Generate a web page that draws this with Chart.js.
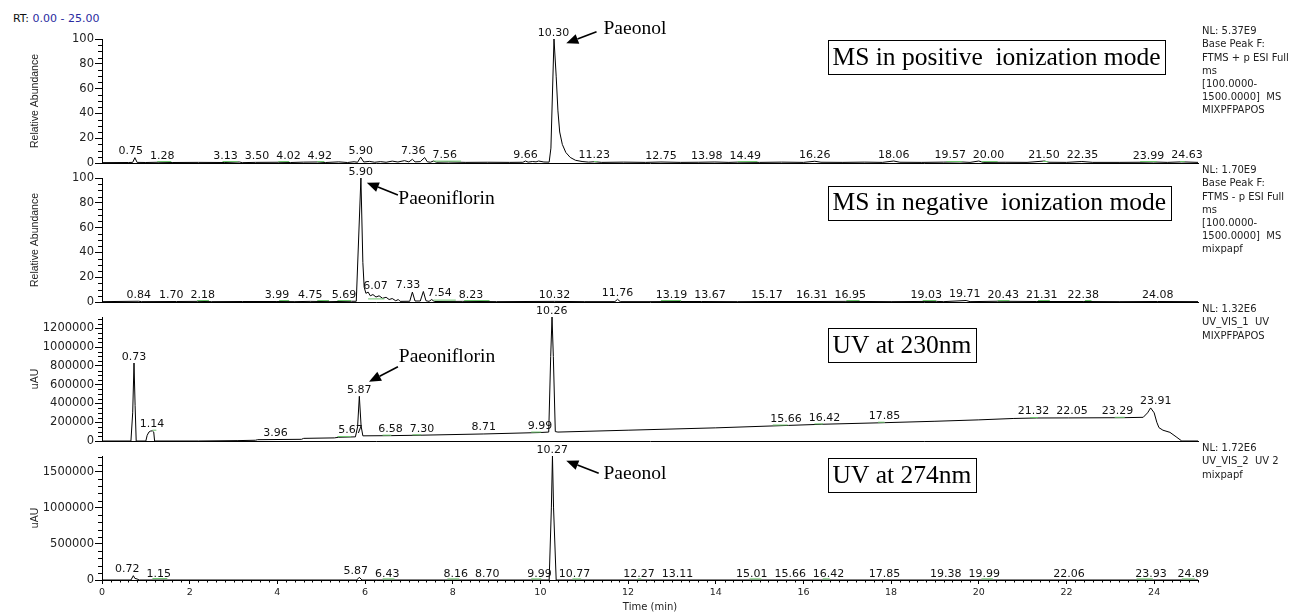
<!DOCTYPE html>
<html><head><meta charset="utf-8">
<script src="https://cdn.jsdelivr.net/npm/chart.js@4.4.0/dist/chart.umd.min.js"></script>
<style>
html,body{margin:0;padding:0;background:#fff;}
body{width:1297px;height:614px;position:relative;overflow:hidden;}
canvas{position:absolute;left:0;}
#rt{position:absolute;left:13px;top:12px;line-height:13px;font-size:11px;font-family:"DejaVu Sans";color:#111;white-space:pre;}
#rt span{color:#2a2aa0;}
</style></head><body>
<div id="rt">RT: <span>0.00 - 25.00</span></div>
<canvas id="c1" width="1297" height="162" style="top:9px"></canvas>
<canvas id="c2" width="1297" height="162" style="top:148px"></canvas>
<canvas id="c3" width="1297" height="162" style="top:287px"></canvas>
<canvas id="c4" width="1297" height="188" style="top:426px"></canvas>
<script>
// ---------- DATA ----------
const xTicks = [0,2,4,6,8,10,12,14,16,18,20,22,24];
const msTicks = [0,20,40,60,80,100];
const uv230Ticks = [0,200000,400000,600000,800000,1000000,1200000];
const uv274Ticks = [0,500000,1000000,1500000];

// MS positive mode (relative abundance)
const posRT = [0.00,0.60,0.70,0.75,0.80,1.00,1.28,1.60,2.20,2.80,3.13,3.20,3.50,4.02,4.30,4.60,4.92,5.10,5.40,5.60,5.75,5.83,5.90,5.97,6.10,6.22,6.35,6.48,6.62,6.75,6.90,7.00,7.08,7.14,7.26,7.36,7.42,7.49,7.56,7.63,7.90,8.30,8.80,9.30,9.60,9.66,9.72,9.82,9.90,9.96,10.08,10.20,10.24,10.31,10.36,10.40,10.44,10.50,10.58,10.68,10.80,10.95,11.10,11.23,11.40,11.90,12.40,12.75,13.20,13.60,13.98,14.30,14.49,15.00,15.50,16.00,16.26,16.40,16.90,17.40,17.80,18.06,18.20,18.70,19.20,19.57,19.80,20.00,20.10,20.60,21.10,21.50,21.60,22.00,22.35,22.60,23.20,23.70,23.99,24.30,24.63,25.00];
const posAbund = [0.3,0.4,0.5,4.3,0.5,0.4,0.6,0.4,0.5,0.4,0.8,0.3,0.5,0.6,0.4,0.7,0.8,0.4,0.9,0.4,1.0,0.6,4.8,0.8,1.3,0.6,1.1,0.6,1.5,0.8,1.9,0.9,3.0,0.9,1.1,4.4,1.0,0.6,1.6,0.6,0.8,0.5,0.6,0.5,0.6,1.6,0.7,1.2,0.9,1.6,0.8,0.7,12,100,70,42,25,15,8.5,4.5,2.2,1.2,0.7,1.0,0.5,0.7,0.5,0.8,0.5,0.6,0.8,0.5,0.7,0.5,0.7,0.5,1.4,0.6,0.5,0.7,0.5,1.6,0.6,0.5,0.7,0.9,0.5,1.6,0.5,0.6,0.5,1.6,0.6,0.5,1.2,0.5,0.5,0.6,0.8,0.5,0.9,0.5];
const posPeaks = [0.75,1.28,3.13,3.50,4.02,4.92,5.90,7.36,7.56,9.66,10.30,11.23,12.75,13.98,14.49,16.26,18.06,19.57,20.00,21.50,22.35,23.99,24.63];
const posInteg = [[1.26,1.58,1.2],[2.75,3.10,1.2],[4.02,4.27,1.2],[4.91,5.07,1.2],[7.56,8.19,1.5],[11.22,11.30,1.2],[14.50,14.95,1.2],[19.26,19.63,1.2],[20.06,20.43,1.2],[21.46,21.58,1.2],[23.68,24.06,1.2],[24.59,24.70,1.2]];
const posNL = ["NL: 5.37E9","Base Peak F:","FTMS + p ESI Full","ms","[100.0000-","1500.0000]  MS","MIXPFPAPOS"];

// MS negative mode (relative abundance)
const negRT = [0.00,0.84,0.90,1.70,2.18,2.50,3.20,3.99,4.40,4.75,5.20,5.69,5.80,5.906,5.95,5.98,6.02,6.07,6.12,6.18,6.25,6.32,6.40,6.48,6.55,6.62,6.70,6.76,6.80,7.02,7.08,7.14,7.26,7.33,7.39,7.46,7.52,7.58,8.23,9.00,10.32,11.00,11.70,11.76,11.82,12.50,13.19,13.67,14.50,15.17,16.31,16.95,18.00,19.03,19.20,19.71,19.80,20.43,21.31,22.38,23.20,24.08,25.00];
const negAbund = [0.3,0.6,0.3,0.4,0.5,0.3,0.4,0.4,0.3,0.5,0.3,0.6,0.6,100,32,12,7,8,5,6,4,5,3,3.8,2,2.8,1,2,0.5,0.6,8,0.8,0.8,8.5,1,0.5,2,0.4,0.5,0.3,0.5,0.3,0.3,2.2,0.3,0.3,0.4,0.4,0.3,0.4,0.4,0.5,0.3,0.5,0.3,1.2,0.3,0.6,0.4,0.4,0.3,0.4,0.3];
const negPeaks = [0.84,1.70,2.18,3.99,4.75,5.69,5.90,6.07,7.33,7.54,8.23,10.32,11.76,13.19,13.67,15.17,16.31,16.95,19.03,19.71,20.43,21.31,22.38,24.08];
const negInteg = [[2.17,2.44,1.2],[4.04,4.27,1.2],[4.91,5.18,1.2],[5.37,5.68,1.2],[6.07,6.44,2.5],[7.56,8.07,1.5],[8.26,8.84,1.2],[12.75,13.21,1.2],[16.98,17.28,1.2],[18.72,19.03,1.2],[20.43,20.70,1.2],[21.35,21.62,1.2],[22.42,22.57,1.2]];
const negNL = ["NL: 1.70E9","Base Peak F:","FTMS - p ESI Full","ms","[100.0000-","1500.0000]  MS","mixpapf"];

// UV 230 nm (uAU)
const uv230RT = [0.00,0.66,0.70,0.73,0.755,0.78,1.00,1.03,1.07,1.11,1.15,1.18,1.20,2.20,3.10,3.50,3.55,4.55,4.60,5.30,5.40,5.78,5.83,5.87,5.91,5.95,6.58,7.30,8.71,9.99,10.19,10.235,10.265,10.295,10.34,10.40,12.00,14.00,15.66,16.42,17.85,19.00,20.00,20.80,21.32,22.05,23.29,23.75,23.85,23.92,24.00,24.06,24.11,24.20,24.36,24.50,24.63,25.00];
const uv230Val = [0,0,300000,830000,380000,0,0,60000,95000,106000,108000,95000,0,0,4000,8000,14000,18000,28000,33000,40000,44000,150000,476000,160000,55000,57000,62000,75000,90000,95000,900000,1320000,900000,100000,95000,115000,140000,166000,178000,195000,210000,225000,240000,245000,246000,248000,252000,300000,352000,300000,200000,142000,115000,92000,45000,0,0];
const uv230Peaks = [0.73,1.14,3.96,5.67,5.87,6.58,7.30,8.71,9.99,10.26,15.66,16.42,17.85,21.32,22.05,23.29,23.91];
const uv230Integ = [[1.15,1.24,115000],[5.37,5.68,48000],[6.40,6.60,62000],[7.08,7.28,66000],[9.79,10.02,95000],[15.30,15.64,170000],[16.25,16.45,182000],[17.70,17.85,200000],[21.17,21.35,250000],[23.10,23.33,252000]];
const uv230NL = ["NL: 1.32E6","UV_VIS_1  UV","MIXPFPAPOS"];

// UV 274 nm (uAU)
const uv274RT = [0.00,0.66,0.715,0.75,0.80,0.85,5.81,5.87,5.93,10.20,10.25,10.275,10.30,10.36,25.00];
const uv274Val = [0,0,60000,22000,14000,0,0,38000,0,0,1000000,1720000,1000000,0,0];
const uv274Peaks = [0.72,1.15,5.87,6.43,8.16,8.70,9.99,10.27,10.77,12.27,13.11,15.01,15.66,16.42,17.85,19.38,19.99,22.06,23.93,24.89];
const uv274Integ = [[1.15,1.49,20000],[6.40,6.67,15000],[7.88,8.15,15000],[9.79,10.02,15000],[10.73,10.93,15000],[12.22,12.30,15000],[14.77,15.04,15000],[16.44,16.60,15000],[20.06,20.32,15000],[23.60,23.97,15000],[24.63,24.93,15000]];
const uv274NL = ["NL: 1.72E6","UV_VIS_2  UV 2","mixpapf"];

// ---------- HELPERS ----------
function interp(rt, val, p) {
  for (let i = 0; i < rt.length - 1; i++) {
    if (p >= rt[i] && p <= rt[i+1]) {
      const f = (p - rt[i]) / (rt[i+1] - rt[i] || 1);
      return val[i] + f * (val[i+1] - val[i]);
    }
  }
  return 0;
}
function peakHeight(rt, val, p) {
  let h = interp(rt, val, p);
  for (let i = 0; i < rt.length; i++) if (Math.abs(rt[i] - p) <= 0.045) h = Math.max(h, val[i]);
  return h;
}

const annoPlugin = {
  id: 'chromAnno',
  afterDatasetsDraw(chart, args, o) {
    const ctx = chart.ctx, xs = chart.scales.x, ys = chart.scales.y, ca = chart.chartArea;
    ctx.save();
    // minor ticks
    ctx.strokeStyle = '#000'; ctx.lineWidth = 1;
    ctx.beginPath();
    const n = Math.floor(o.yMax / o.yMinor + 1e-9);
    for (let i = 0; i <= n; i++) {
      const v = i * o.yMinor;
      if (o.yTicks.some(t => Math.abs(t - v) < 1e-6)) continue;
      const y = Math.round(ys.getPixelForValue(v)) + 0.5;
      ctx.moveTo(ca.left - 4, y); ctx.lineTo(ca.left, y);
    }
    if (o.showX) {
      for (let i = 0; i <= 125; i++) {
        const v = i * 0.2;
        if (xTicks.some(t => Math.abs(t - v) < 1e-6)) continue;
        const x = Math.round(xs.getPixelForValue(v)) + 0.5;
        ctx.moveTo(x, ca.bottom); ctx.lineTo(x, ca.bottom + 2.5);
      }
    }
    ctx.stroke();
    // peak labels with simple collision avoidance
    ctx.font = '11px "DejaVu Sans"'; ctx.fillStyle = '#111';
    ctx.textAlign = 'center'; ctx.textBaseline = 'alphabetic';
    const items = o.peaks.map(p => {
      const t = p.toFixed(2);
      const h = peakHeight(o.rt, o.val, p);
      return { t, x: xs.getPixelForValue(p), y: ys.getPixelForValue(h) - 3.5, w: ctx.measureText(t).width };
    }).sort((a, b) => a.x - b.x);
    for (let it = 0; it < 300; it++) {
      let moved = false;
      for (let i = 0; i < items.length; i++) for (let j = i + 1; j < items.length; j++) {
        const a = items[i], b = items[j];
        if (Math.abs(a.y - b.y) >= 10) continue;
        const need = (a.w + b.w) / 2 + 7, d = b.x - a.x;
        if (d < need - 0.05) { const s = (need - d) / 2; a.x -= s; b.x += s; moved = true; }
      }
      if (!moved) break;
    }
    items.forEach(it => ctx.fillText(it.t, it.x, it.y));
    // NL text
    ctx.font = '10px "DejaVu Sans"'; ctx.fillStyle = '#222';
    ctx.textAlign = 'left'; ctx.textBaseline = 'middle';
    o.nl.forEach((s, i) => ctx.fillText(s, ca.right + 4, ca.top - 7.3 + i * 13.2));
    // boxed title
    ctx.font = '25.5px "Liberation Serif"'; ctx.fillStyle = '#000';
    const w = ctx.measureText(o.box.text).width;
    const bx = xs.getPixelForValue(o.box.x), by = ys.getPixelForValue(o.box.y);
    ctx.lineWidth = 1; ctx.strokeStyle = '#000';
    ctx.strokeRect(Math.round(bx) + 0.5, Math.round(by - 17) + 0.5, Math.round(w + 9), 34);
    ctx.textBaseline = 'middle';
    ctx.fillText(o.box.text, bx + 5, by + 1);
    // arrow + compound label
    if (o.arrow) {
      const a = o.arrow;
      const hx = xs.getPixelForValue(a.hx), hy = ys.getPixelForValue(a.hy);
      const sx = xs.getPixelForValue(a.sx), sy = ys.getPixelForValue(a.sy);
      const ang = Math.atan2(hy - sy, hx - sx), L = 12, W = 5;
      const ex = hx - L * Math.cos(ang), ey = hy - L * Math.sin(ang);
      ctx.lineWidth = 1.6;
      ctx.beginPath(); ctx.moveTo(sx, sy); ctx.lineTo(ex, ey); ctx.stroke();
      ctx.beginPath();
      ctx.moveTo(hx, hy);
      ctx.lineTo(ex + W * Math.sin(ang), ey - W * Math.cos(ang));
      ctx.lineTo(ex - W * Math.sin(ang), ey + W * Math.cos(ang));
      ctx.closePath(); ctx.fill();
      ctx.font = '19.5px "Liberation Serif"'; ctx.textAlign = 'left'; ctx.textBaseline = 'middle';
      ctx.fillText(a.text, xs.getPixelForValue(a.tx), ys.getPixelForValue(a.ty));
    }
    ctx.restore();
  }
};

function makePanel(id, c) {
  const main = c.rt.map((t, i) => ({x: t, y: c.val[i]}));
  const integ = [];
  c.integ.forEach(s => { integ.push({x: s[0], y: s[2]}, {x: s[1], y: s[2]}, {x: s[1], y: null}); });
  return new Chart(document.getElementById(id), {
    type: 'line',
    data: { datasets: [
      { data: integ, borderColor: '#6cc46c', borderWidth: 1, pointRadius: 0, spanGaps: false, tension: 0, clip: false },
      { data: main, borderColor: '#000', borderWidth: 1, pointRadius: 0, tension: 0, fill: false, clip: false }
    ]},
    options: {
      responsive: false, animation: false, devicePixelRatio: 1, events: [],
      layout: { padding: { top: 30, bottom: c.showX ? 0 : 8, left: 0, right: 99 } },
      plugins: {
        legend: { display: false }, tooltip: { enabled: false },
        chromAnno: { rt: c.rt, val: c.val, peaks: c.peaks, nl: c.nl, box: c.box, arrow: c.arrow,
                     yMax: c.yMax, yMinor: c.yMinor, yTicks: c.yTicks, showX: c.showX }
      },
      scales: {
        x: {
          type: 'linear', min: 0, max: 25, display: true,
          afterBuildTicks: s => { s.ticks = xTicks.map(v => ({value: v})); },
          afterFit: s => { s.height = c.showX ? 34 : 0; },
          ticks: { display: c.showX, font: { family: 'DejaVu Sans', size: 9.5 }, color: '#222', padding: 3, maxRotation: 0, autoSkip: false },
          grid: { display: c.showX, drawOnChartArea: false, drawTicks: true, tickLength: 4, color: '#000' },
          border: { display: true, color: '#000', width: 1 },
          title: { display: c.showX, text: 'Time (min)', font: { family: 'DejaVu Sans', size: 10 }, color: '#222', padding: { top: 0, bottom: 1 } }
        },
        y: {
          type: 'linear', min: 0, max: c.yMax,
          afterBuildTicks: s => { s.ticks = c.yTicks.map(v => ({value: v})); },
          afterFit: s => { s.width = 102; },
          ticks: { font: { family: 'DejaVu Sans', size: 11.5 }, color: '#222', padding: 1, callback: v => String(v) },
          grid: { drawOnChartArea: false, drawTicks: true, tickLength: 7, color: '#000' },
          border: { display: true, color: '#000', width: 1 },
          title: { display: true, text: c.yTitle, font: { family: 'Liberation Sans', size: 10.5 }, color: '#222', padding: { top: 29, bottom: 0 } }
        }
      }
    },
    plugins: [annoPlugin]
  });
}

makePanel('c1', { rt: posRT, val: posAbund, peaks: posPeaks, integ: posInteg, nl: posNL,
  yMax: 100, yMinor: 5, yTicks: msTicks, yTitle: 'Relative Abundance', showX: false,
  box: { text: 'MS in positive  ionization mode', x: 16.55, y: 85.5 },
  arrow: { text: 'Paeonol', tx: 11.44, ty: 108, hx: 10.59, hy: 96.5, sx: 11.28, sy: 105.9 } });
makePanel('c2', { rt: negRT, val: negAbund, peaks: negPeaks, integ: negInteg, nl: negNL,
  yMax: 100, yMinor: 5, yTicks: msTicks, yTitle: 'Relative Abundance', showX: false,
  box: { text: 'MS in negative  ionization mode', x: 16.55, y: 80.2 },
  arrow: { text: 'Paeoniflorin', tx: 6.76, ty: 83, hx: 6.04, hy: 96.2, sx: 6.75, sy: 86.3 } });
makePanel('c3', { rt: uv230RT, val: uv230Val, peaks: uv230Peaks, integ: uv230Integ, nl: uv230NL,
  yMax: 1320000, yMinor: 50000, yTicks: uv230Ticks, yTitle: 'uAU', showX: false,
  box: { text: 'UV at 230nm', x: 16.55, y: 1020000 },
  arrow: { text: 'Paeoniflorin', tx: 6.77, ty: 891000, hx: 6.09, hy: 631000, sx: 6.75, sy: 791000 } });
makePanel('c4', { rt: uv274RT, val: uv274Val, peaks: uv274Peaks, integ: uv274Integ, nl: uv274NL,
  yMax: 1720000, yMinor: 100000, yTicks: uv274Ticks, yTitle: 'uAU', showX: true,
  box: { text: 'UV at 274nm', x: 16.55, y: 1456000 },
  arrow: { text: 'Paeonol', tx: 11.44, ty: 1466000, hx: 10.59, hy: 1655000, sx: 11.33, sy: 1480000 } });
</script>
</body></html>
